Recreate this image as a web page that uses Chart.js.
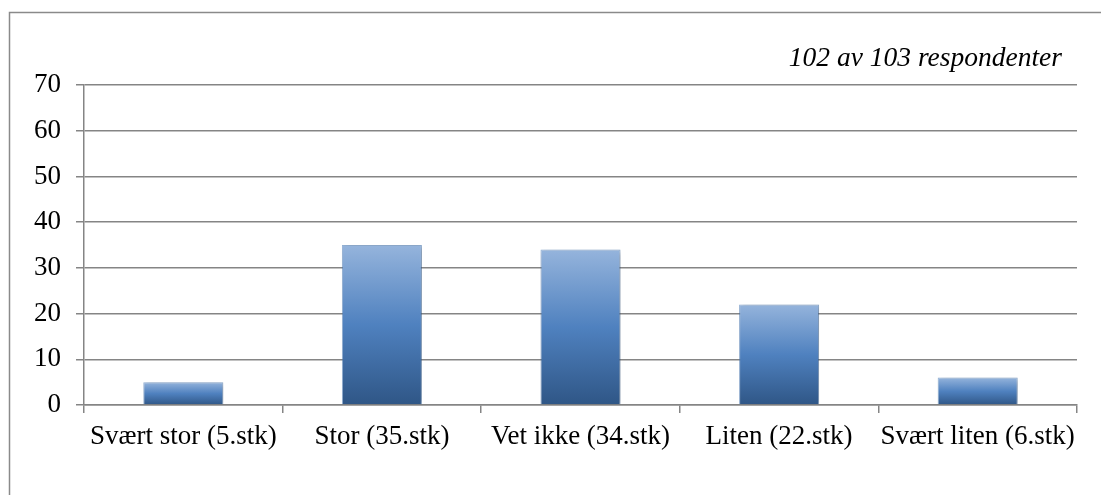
<!DOCTYPE html>
<html>
<head>
<meta charset="utf-8">
<script src="https://cdn.jsdelivr.net/npm/chart.js@4/dist/chart.umd.min.js"></script>
<style>
html,body{margin:0;padding:0;background:#fff;}
#wrap{position:relative;width:1101px;height:495px;}
</style>
</head>
<body>
<div id="wrap"><canvas id="c" width="1101" height="495"></canvas></div>
<script>
const categories = ["Svært stor (5.stk)", "Stor (35.stk)", "Vet ikke (34.stk)", "Liten (22.stk)", "Svært liten (6.stk)"];
const values = [5, 35, 34, 22, 6];
const yTicks = [0, 10, 20, 30, 40, 50, 60, 70];
const noteText = "102 av 103 respondenter";

const serif = "'Liberation Serif', 'Times New Roman', serif";

const framePlugin = {
  id: 'frame',
  beforeDraw(chart) {
    const ctx = chart.ctx;
    ctx.save();
    ctx.fillStyle = '#fff';
    ctx.fillRect(0, 0, chart.width, chart.height);
    ctx.strokeStyle = '#8a8a8a';
    ctx.lineWidth = 1.5;
    ctx.strokeRect(9.5, 12.5, 1300, 700);
    ctx.restore();
  },
  afterDraw(chart) {
    const ctx = chart.ctx;
    ctx.save();
    ctx.fillStyle = '#000';
    ctx.font = "italic 27.5px " + serif;
    ctx.textAlign = 'right';
    ctx.textBaseline = 'alphabetic';
    ctx.fillText(noteText, 1062, 66);
    ctx.restore();
  }
};

const shadowPlugin = {
  id: 'barShadow',
  beforeDatasetsDraw(chart) {
    const ctx = chart.ctx;
    ctx.save();
    ctx.shadowColor = 'rgba(0,0,0,0.28)';
    ctx.shadowBlur = 5;
    ctx.shadowOffsetX = 2;
    ctx.shadowOffsetY = 1;
  },
  afterDatasetsDraw(chart) {
    chart.ctx.restore();
  }
};

function barGradient(context) {
  const chart = context.chart;
  const ys = chart.scales && chart.scales.y;
  if (!ys || context.raw === undefined) return '#4f81bd';
  const top = ys.getPixelForValue(context.raw);
  const bottom = ys.getPixelForValue(0);
  if (!isFinite(top) || !isFinite(bottom) || top === bottom) return '#4f81bd';
  const g = chart.ctx.createLinearGradient(0, top, 0, bottom);
  g.addColorStop(0, '#95b4dc');
  g.addColorStop(0.5, '#4f81bf');
  g.addColorStop(1, '#2f5686');
  return g;
}

new Chart(document.getElementById('c'), {
  type: 'bar',
  data: {
    labels: categories,
    datasets: [{
      data: values,
      backgroundColor: barGradient,
      borderColor: 'rgba(79,129,189,0.6)',
      borderWidth: 1,
      categoryPercentage: 1,
      barPercentage: 0.403
    }]
  },
  plugins: [framePlugin, shadowPlugin],
  options: {
    responsive: false,
    animation: false,
    devicePixelRatio: 1,
    layout: { padding: { top: 85, right: 24, left: 0, bottom: 0 } },
    plugins: {
      legend: { display: false },
      title: { display: false },
      tooltip: { enabled: false }
    },
    scales: {
      x: {
        offset: true,
        grid: {
          display: true,
          offset: true,
          drawOnChartArea: false,
          drawTicks: true,
          tickLength: 8,
          color: '#858585',
          lineWidth: 1.5
        },
        border: { display: true, color: '#858585', width: 1.5 },
        ticks: {
          color: '#000',
          font: { family: serif, size: 27 },
          padding: 8,
          maxRotation: 0,
          autoSkip: false
        },
        afterFit(s) { s.height = 90; }
      },
      y: {
        min: 0,
        max: 70,
        afterBuildTicks(s) { s.ticks = yTicks.map(v => ({ value: v })); },
        grid: {
          color: '#858585',
          lineWidth: 1.5,
          drawTicks: true,
          tickLength: 8
        },
        border: { display: true, color: '#858585', width: 1.5 },
        ticks: {
          color: '#000',
          font: { family: serif, size: 27 },
          padding: 15
        },
        afterFit(s) { s.width = 84; }
      }
    }
  }
});
</script>
</body>
</html>
